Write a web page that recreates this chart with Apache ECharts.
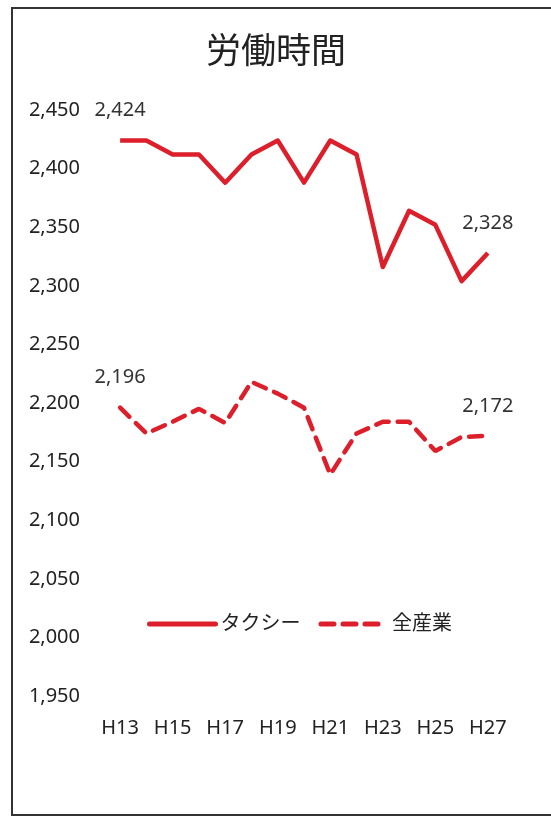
<!DOCTYPE html>
<html>
<head>
<meta charset="utf-8">
<script src="https://cdn.jsdelivr.net/npm/echarts@6/dist/echarts.min.js"></script>
<style>
html,body{margin:0;padding:0;background:#fff;}
#c{width:551px;height:818px;}
</style>
</head>
<body>
<div id="c"></div>
<script>
var categories = ['H13','H14','H15','H16','H17','H18','H19','H20','H21','H22','H23','H24','H25','H26','H27'];
var taxi = [2424,2424,2412,2412,2388,2412,2424,2388,2424,2412,2316,2364,2352,2304,2328];
var allIndustry = [2196,2174,2184,2195,2183,2218,2208,2196,2139,2174,2184,2184,2159,2171,2172];
var seriesNames = ['タクシー','全産業'];
var title = '労働時間';

var FONT = '"Noto Sans", "Noto Sans CJK JP", sans-serif';
var RED = '#dc1f2a';

function fmt(v){ return v.toLocaleString('en-US'); }
function endMarks(arr){
  var last = arr.length-1;
  return {
    symbol:'circle', symbolSize:0, silent:true,
    label:{show:true, position:'top', distance:20, formatter:function(p){return fmt(p.value);},
      color:'#333', fontSize:20, fontFamily:FONT},
    data:[
      {coord:[categories[0], arr[0]], value:arr[0]},
      {coord:[categories[last], arr[last]], value:arr[last]}
    ]
  };
}

var chart = echarts.init(document.getElementById('c'));
chart.setOption({
  animation:false,
  backgroundColor:'#fff',
  title:{text:title, left:271, textAlign:'center', top:31,
    textStyle:{fontSize:35, fontWeight:'normal', color:'#222', fontFamily:FONT}},
  graphic:[{type:'rect', shape:{x:12, y:8, width:600, height:807},
    style:{fill:'none', stroke:'#333', lineWidth:2}, silent:true}],
  legend:{
    data:[{name:seriesNames[0]},{name:seriesNames[1]}],
    left:142, top:609, itemWidth:66, itemHeight:14, itemGap:18,
    itemStyle:{color:'rgba(0,0,0,0)', borderWidth:0, opacity:0},
    lineStyle:{width:5, type:'inherit', cap:'round'},
    textStyle:{fontSize:20, color:'#222', fontFamily:FONT}
  },
  grid:{left:107, right:50, top:110, bottom:122, containLabel:false},
  xAxis:{type:'category', data:categories, boundaryGap:true,
    axisLine:{show:false}, axisTick:{show:false},
    axisLabel:{interval:1, margin:22, fontSize:20, color:'#222', fontFamily:FONT}},
  yAxis:{type:'value', min:1950, max:2450, interval:50,
    splitLine:{show:false}, axisLine:{show:false}, axisTick:{show:false},
    axisLabel:{margin:27, fontSize:20, color:'#222', fontFamily:FONT, formatter:function(v){return fmt(v);}}},
  series:[
    {name:seriesNames[0], type:'line', data:taxi, symbol:'none',
      itemStyle:{color:RED},
      lineStyle:{color:RED, width:4.5, join:'round'},
      markPoint:endMarks(taxi)},
    {name:seriesNames[1], type:'line', data:allIndustry, symbol:'none',
      itemStyle:{color:RED},
      lineStyle:{color:RED, width:4.5, type:[13,9], cap:'round'},
      markPoint:endMarks(allIndustry)}
  ]
});
</script>
</body>
</html>
